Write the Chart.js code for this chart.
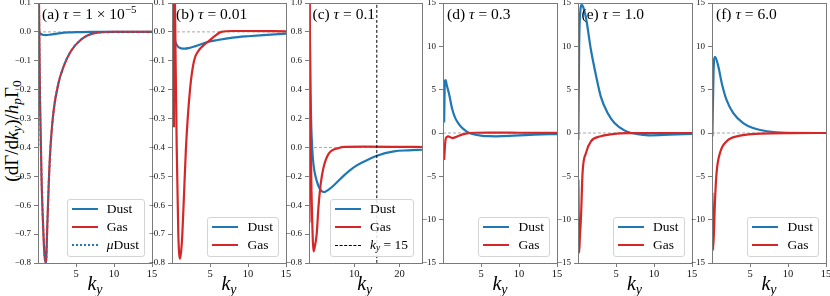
<!DOCTYPE html>
<html><head><meta charset="utf-8">
<script src="https://cdn.jsdelivr.net/npm/chart.js@4.4.1/dist/chart.umd.min.js"></script>
<style>
html,body{margin:0;padding:0;background:#fff;}
body{width:830px;height:296px;overflow:hidden;position:relative;font-family:"Liberation Serif","Times New Roman",serif;color:#000;}
canvas{position:absolute;}
.ttl{position:absolute;top:5px;font-size:15.5px;white-space:nowrap;line-height:18px;}
.xl{position:absolute;top:272px;font-size:20px;font-style:italic;white-space:nowrap;line-height:22px;transform:translateX(-50%);}
.yl{position:absolute;left:12px;top:131px;font-size:19px;white-space:nowrap;transform:translate(-50%,-50%) rotate(-90deg);}
.leg{position:absolute;border:1px solid #d4d4d4;border-radius:3px;background:rgba(255,255,255,0.85);padding:0 5px 2px 4px;font-size:13.5px;}
.row{height:18px;line-height:18px;display:flex;align-items:center;white-space:nowrap;}
.smp{width:26px;margin-right:9px;height:0;}
sub{font-size:70%;vertical-align:-0.25em;line-height:0;}
sup{font-size:70%;vertical-align:0.55em;line-height:0;}
</style></head><body>
<div class="yl">(dΓ/d<i>k</i><sub><i>y</i></sub>)/<i>h</i><sub><i>p</i></sub>Γ<sub>0</sub></div>
<script>
// ---------- DATA ----------
const xTicks15 = [5, 10, 15];
const xTicksC = [10, 20];
const yTicksAB = [0.1, 0.0, -0.1, -0.2, -0.3, -0.4, -0.5, -0.6, -0.7, -0.8];
const yTicksC = [1.0, 0.8, 0.6, 0.4, 0.2, 0.0, -0.2, -0.4, -0.6, -0.8];
const yTicksDEF = [15, 10, 5, 0, -5, -10, -15];

// (a) tau = 1e-5
const kyDustA = [0.01, 0.1, 0.3, 0.6, 1.0, 1.5, 2.0, 3.0, 4.0, 5.0, 7.0, 10, 15];
const dustA   = [0.6, 0.01, -0.006, -0.01, -0.011, -0.01, -0.008, -0.004, -0.002, -0.001, 0, 0, 0];
const kyGasA  = [0.02, 0.13, 0.26, 0.48, 0.7, 0.85, 1.0, 1.1, 1.2, 1.42, 1.64, 2.07, 2.7, 3.36, 4.3, 5.6, 7.3, 10, 15];
const gasA    = [0.6, 0.1, -0.23, -0.52, -0.69, -0.77, -0.8, -0.78, -0.69, -0.52, -0.4, -0.27, -0.177, -0.12, -0.068, -0.028, -0.005, 0, 0];
const muDustA = [0.6, 0.1, -0.23, -0.52, -0.69, -0.77, -0.8, -0.78, -0.69, -0.52, -0.4, -0.27, -0.177, -0.12, -0.068, -0.028, -0.005, 0, 0];

// (b) tau = 0.01
const kyDustB = [0.2, 0.3, 0.45, 0.7, 1.0, 1.4, 1.7, 2.2, 3.0, 4.0, 4.8, 6.0, 8.0, 10, 12, 15];
const dustB   = [-0.005, -0.02, -0.035, -0.048, -0.055, -0.058, -0.058, -0.056, -0.05, -0.041, -0.034, -0.028, -0.02, -0.015, -0.011, -0.006];
const kyGasB  = [0.25, 0.28, 0.4, 0.5, 0.62, 0.83, 1.05, 1.2, 1.36, 1.6, 1.84, 2.37, 2.9, 3.5, 4.2, 4.8, 5.6, 6.5, 8, 10, 15];
const gasB    = [-0.33, 0.5, 0.08, -0.15, -0.4, -0.7, -0.785, -0.76, -0.7, -0.55, -0.4, -0.2, -0.1, -0.065, -0.045, -0.033, -0.015, 0, 0.003, 0.003, 0.002];

// (c) tau = 0.1
const kyDustC = [0.05, 0.15, 0.33, 0.5, 0.7, 1.0, 1.44, 2.0, 2.7, 3.35, 4.2, 5.4, 7.7, 9.9, 12.1, 15, 18.8, 22, 25];
const dustC   = [1.1, 0.85, 0.4, 0.15, 0.0, -0.12, -0.2, -0.26, -0.3, -0.31, -0.295, -0.265, -0.195, -0.138, -0.099, -0.057, -0.027, -0.02, -0.016];
const kyGasC  = [0.1, 0.12, 0.3, 0.4, 0.55, 0.7, 0.85, 1.0, 1.2, 1.7, 2.1, 2.6, 3.2, 4.3, 6.6, 8, 12, 20, 25];
const gasC    = [-0.52, 1.2, 0.2, 0.0, -0.3, -0.5, -0.65, -0.72, -0.7, -0.6, -0.41, -0.25, -0.14, -0.046, -0.004, 0.004, 0.005, 0.004, 0.003];
const kyLineC = [15, 15];
const yLineC  = [-0.8, 1.0];

// (d) tau = 0.3
const kyDustD = [0.15, 0.25, 0.35, 0.5, 0.8, 1.2, 1.6, 2.0, 2.5, 3.0, 3.5, 4.0, 5.0, 6.0, 7.0, 8.0, 10, 12, 15];
const dustD   = [1.2, 6.0, 6.1, 5.5, 4.5, 2.8, 1.75, 1.15, 0.6, 0.25, 0.0, -0.15, -0.3, -0.37, -0.38, -0.35, -0.28, -0.2, -0.12];
const kyGasD  = [0.15, 0.33, 0.5, 0.7, 0.9, 1.2, 1.6, 2.1, 3.0, 4.3, 6, 8, 10, 15];
const gasD    = [-3.1, -0.8, -0.45, -0.38, -0.45, -0.58, -0.5, -0.31, -0.08, 0.03, 0.05, 0.04, 0.03, 0.02];

// (e) tau = 1.0
const kyDustE = [0.05, 0.15, 0.3, 0.5, 0.7, 1.05, 1.7, 2.4, 3.0, 3.9, 4.8, 6.1, 7.0, 8, 9.5, 12, 15];
const dustE   = [-0.8, 10, 14, 14.8, 14.5, 13.3, 9.6, 6.5, 4.2, 2.3, 1.15, 0.3, 0.0, -0.15, -0.27, -0.2, -0.1];
const kyGasE  = [0.05, 0.15, 0.25, 0.4, 0.6, 1.05, 1.7, 3.0, 4.8, 6.5, 10, 15];
const gasE    = [-5.4, -13.8, -12, -9.6, -4.6, -2.3, -0.96, -0.38, -0.1, -0.02, 0, 0];

// (f) tau = 6.0
const kyDustF = [0.05, 0.2, 0.4, 0.83, 1.27, 1.9, 2.8, 4.1, 5.4, 7.2, 9.8, 15];
const dustF   = [-0.4, 7.0, 8.8, 7.7, 5.8, 3.85, 2.3, 1.15, 0.58, 0.2, 0.02, 0];
const kyGasF  = [0.05, 0.15, 0.4, 0.6, 1.05, 1.9, 3.7, 6.4, 10, 15];
const gasF    = [-6.9, -13.5, -7.7, -4.6, -2.3, -0.97, -0.31, -0.08, -0.01, 0];

// ---------- STYLE / LAYOUT ----------
const BLUE = '#1f77b4', RED = '#d62728';
const FRAME = '#7a7a7a';
const TOP = 3, BOTTOM = 263;

const pts = (xs, ys) => xs.map((x, i) => ({x: x, y: ys[i]}));
const dust = (xs, ys) => ({label:'Dust', html:'Dust', xs, ys, color:BLUE, w:2.2, dash:[], order:2, css:'2px solid '+BLUE});
const gas  = (xs, ys) => ({label:'Gas', html:'Gas', xs, ys, color:RED, w:2.2, dash:[], order:1, css:'2px solid '+RED});

const panels = [
  {L:38, R:152, xmin:0, xmax:15, xt:xTicks15, ymin:-0.8, ymax:0.1, yt:yTicksAB, dec:1,
   title:'(a) <i>τ</i> = 1 × 10<sup>−5</sup>',
   series:[dust(kyDustA, dustA), gas(kyGasA, gasA),
     {label:'μDust', html:'<i>μ</i>Dust', xs:kyGasA, ys:muDustA, color:BLUE, w:2, dash:[2,3], order:0, css:'2px dotted '+BLUE}]},
  {L:172, R:286, xmin:0, xmax:15, xt:xTicks15, ymin:-0.8, ymax:0.1, yt:yTicksAB, dec:1,
   title:'(b) <i>τ</i> = 0.01', series:[dust(kyDustB, dustB), gas(kyGasB, gasB)]},
  {L:308.5, R:421, xmin:0, xmax:25, xt:xTicksC, ymin:-0.8, ymax:1.0, yt:yTicksC, dec:1,
   title:'(c) <i>τ</i> = 0.1', series:[dust(kyDustC, dustC), gas(kyGasC, gasC),
     {label:'k_y=15', html:'<i>k<sub>y</sub></i> = 15', xs:kyLineC, ys:yLineC, color:'#000', w:1, dash:[3,2], order:0.5, css:'1px dashed #000'}]},
  {L:443, R:557, xmin:0, xmax:15, xt:xTicks15, ymin:-15, ymax:15, yt:yTicksDEF, dec:0,
   title:'(d) <i>τ</i> = 0.3', series:[dust(kyDustD, dustD), gas(kyGasD, gasD)]},
  {L:577.5, R:691.5, xmin:0, xmax:15, xt:xTicks15, ymin:-15, ymax:15, yt:yTicksDEF, dec:0,
   title:'(e) <i>τ</i> = 1.0', series:[dust(kyDustE, dustE), gas(kyGasE, gasE)]},
  {L:712, R:826, xmin:0, xmax:15, xt:xTicks15, ymin:-15, ymax:15, yt:yTicksDEF, dec:0,
   title:'(f) <i>τ</i> = 6.0', series:[dust(kyDustF, dustF), gas(kyGasF, gasF)]}
];

const framePlugin = {
  id: 'frame',
  afterDatasetsDraw(chart) {
    const a = chart.chartArea, c = chart.ctx;
    c.save(); c.strokeStyle = FRAME; c.lineWidth = 1;
    c.strokeRect(Math.round(a.left) + 0.5, Math.round(a.top) + 0.5, Math.round(a.right - a.left), Math.round(a.bottom - a.top));
    c.restore();
  }
};

const tickFont = {family: '"Liberation Serif", serif', size: 9};

panels.forEach((p, idx) => {
  const YW = 40, PADR = 10, CTOP = -20;
  const cv = document.createElement('canvas');
  const w = Math.round(p.R - p.L) + YW + PADR;
  const h = BOTTOM - CTOP + 17;
  cv.width = w; cv.height = h;
  cv.style.left = (p.L - YW) + 'px'; cv.style.top = CTOP + 'px';
  cv.style.width = w + 'px'; cv.style.height = h + 'px';
  document.body.appendChild(cv);

  const datasets = p.series.map(s => ({
    label: s.label, data: pts(s.xs, s.ys), borderColor: s.color, backgroundColor: s.color,
    borderWidth: s.w, borderDash: s.dash, pointRadius: 0, fill: false,
    cubicInterpolationMode: 'monotone', tension: 0.3, order: s.order
  }));
  datasets.push({label:'zero', data: pts([p.xmin, p.xmax], [0, 0]), borderColor:'#a8a8a8',
    borderWidth: 1, borderDash:[3,2], pointRadius:0, fill:false, tension:0, order:10});

  new Chart(cv, {
    type: 'line',
    data: {datasets},
    plugins: [framePlugin],
    options: {
      responsive: false, animation: false, devicePixelRatio: 1,
      layout: {padding: {left: 0, right: PADR, top: TOP - CTOP, bottom: 0}},
      plugins: {legend: {display: false}, tooltip: {enabled: false}},
      scales: {
        x: {type: 'linear', min: p.xmin, max: p.xmax,
          afterBuildTicks: s => { s.ticks = p.xt.map(v => ({value: v})); },
          afterFit: s => { s.height = 17; },
          ticks: {font: {...tickFont, size: 10.5}, color: '#111', maxRotation: 0, autoSkip: false, padding: 1},
          grid: {drawOnChartArea: false, drawTicks: true, tickLength: 4, color: FRAME},
          border: {display: true, color: FRAME}},
        y: {type: 'linear', min: p.ymin, max: p.ymax,
          afterBuildTicks: s => { s.ticks = p.yt.map(v => ({value: v})); },
          afterFit: s => { s.width = YW; },
          ticks: {font: tickFont, color: '#111', autoSkip: false, padding: 3,
            callback: v => (v < 0 ? '−' : '') + Math.abs(v).toFixed(p.dec)},
          grid: {drawOnChartArea: false, drawTicks: true, tickLength: 4, color: FRAME},
          border: {display: true, color: FRAME}}
      }
    }
  });

  // title
  const t = document.createElement('div');
  t.className = 'ttl'; t.innerHTML = p.title;
  t.style.left = (p.L + 4) + 'px';
  document.body.appendChild(t);
  // x label
  const xl = document.createElement('div');
  xl.className = 'xl'; xl.innerHTML = 'k<sub>y</sub>';
  xl.style.left = ((p.L + p.R) / 2) + 'px';
  document.body.appendChild(xl);
  // legend
  const lg = document.createElement('div');
  lg.className = 'leg';
  lg.style.right = (830 - (p.R - 7)) + 'px';
  lg.style.bottom = (296 - (BOTTOM - 6)) + 'px';
  p.series.forEach(s => {
    const r = document.createElement('div'); r.className = 'row';
    r.innerHTML = '<span class="smp" style="border-top:' + s.css + '"></span><span>' + s.html + '</span>';
    lg.appendChild(r);
  });
  document.body.appendChild(lg);
});
</script>
</body></html>
